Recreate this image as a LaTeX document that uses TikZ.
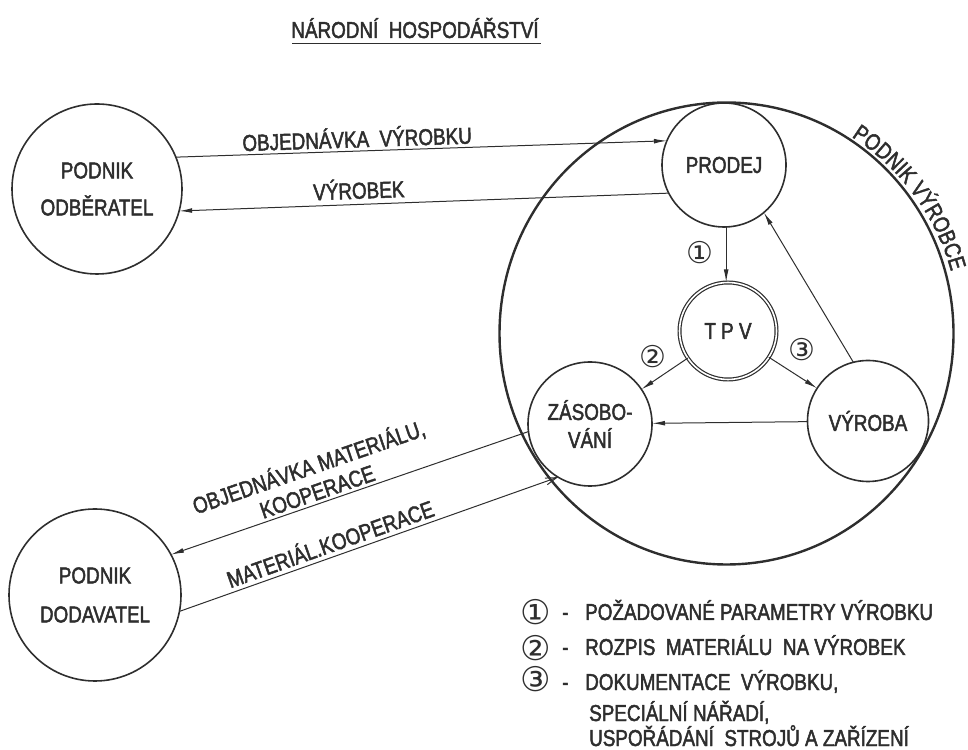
\documentclass[tikz,border=0pt]{standalone}
\usepackage{fontspec}
\setmainfont[FakeStretch=0.82, FakeBold=2]{Liberation Sans}
\newfontfamily\numfont{DejaVu Sans}
\usetikzlibrary{arrows.meta,decorations.text,shapes.geometric}
\definecolor{ink}{HTML}{2E2E2E}
\newcommand{\lbl}{\fontsize{23}{26}\selectfont}
\begin{document}
\begin{tikzpicture}[x=1pt,y=1pt,
  blob/.style={circle, draw=ink, line width=1.6pt, minimum size=#1, inner sep=0pt, outer sep=0pt, align=center, text=ink},
  conn/.style={draw=ink, line width=1pt, -{Latex[length=13pt,width=4.8pt]}},
  openconn/.style={draw=ink, line width=1pt, -{Straight Barb[length=11pt,width=7pt]}},
  clabel/.style={font=\lbl, text=ink, sloped, above},
  cnum/.style={font={\numfont\fontsize{30}{30}\selectfont}, text=ink, inner sep=0pt},
  lnum/.style={font={\numfont\fontsize{34}{34}\selectfont}, text=ink, inner sep=0pt},
  legtext/.style={font=\lbl, text=ink, anchor=west, inner sep=0pt, text height=16pt, text depth=0pt},
]
\useasboundingbox (0,0) rectangle (968,749);

% title
\node[font=\lbl, text=ink, inner sep=0pt, anchor=base] (title) at (415,711) {NÁRODNÍ\ \ HOSPODÁŘSTVÍ};
\draw[ink, line width=1.8pt] ([yshift=-5pt,xshift=1pt]title.south west) -- ([yshift=-5pt,xshift=2pt]title.south east);

% enterprise boundary
\node[ellipse, draw=ink, line width=2.4pt, minimum width=454pt, minimum height=462pt, inner sep=0pt, outer sep=0pt] (firm) at (726.5,415.5) {};
\path[decorate, decoration={text along path, raise=2pt, text format delimiters={|}{|}, text={|\lbl\color{ink}|PODNIK VÝROBCE}, text align=center}]
  (firm.center) ++(62:231) arc[start angle=62, end angle=11, radius=231];

% circles
\node[blob=170pt, font={\fontsize{23}{37}\selectfont}] (odb) at (97,560) {PODNIK\\ODBĚRATEL};
\node[blob=172pt, font={\fontsize{23}{39}\selectfont}] (dod) at (95,154) {PODNIK\\DODAVATEL};
\node[blob=124pt, font=\lbl] (prodej) at (724,584) {PRODEJ};
\node[blob=124pt, font={\fontsize{23}{28}\selectfont}] (zas) at (590,325) {ZÁSOBO-\\VÁNÍ};
\node[blob=121pt, font=\lbl] (vyr) at (868,328) {VÝROBA};
\node[circle, draw=ink, double=white, double distance=1.6pt, line width=1.2pt, minimum size=97pt, inner sep=0pt, outer sep=0pt, font=\lbl, text=ink] (tpv) at (728,418) {T P V};

% connectors
\draw[conn] (odb.22) -- node[clabel, pos=0.37, inner sep=3pt] {OBJEDNÁVKA\ \ VÝROBKU} (prodej.157.5);
\draw[conn] (prodej.207) -- node[clabel, pos=0.632, inner sep=5pt] {VÝROBEK} (odb.345);
\draw[conn] (prodej.272) -- (prodej.272 |- tpv.north);
\draw[conn] (tpv) -- (zas);
\draw[conn] (tpv) -- (vyr);
\draw[conn] (vyr.104) -- (prodej.310);
\draw[conn] (vyr) -- (zas);
\draw[conn] (zas.187) -- node[clabel, pos=0.58, inner sep=3pt, align=center, font={\fontsize{23}{26}\selectfont}] {OBJEDNÁVKA MATERIÁLU,\\KOOPERACE} (dod.28);
\draw[openconn] (dod.349) -- node[clabel, pos=0.41, inner sep=4pt] {MATERIÁL.KOOPERACE} (zas.239.5);

% circled numbers on the diagram
\node[cnum] (n1) at (700,496) {①};
\node[cnum] (n2) at (653,392) {②};
\node[cnum] (n3) at (802,399) {③};

% legend
\node[lnum] (l1) at (536,137) {①};
\node[lnum] (l2) at (536,101) {②};
\node[lnum] (l3) at (536,70) {③};
\node[legtext] (d1) at (562,137) {-};
\node[legtext] (d2) at (562,102) {-};
\node[legtext] (d3) at (562,67) {-};
\node[legtext] (t1) at (585,137) {POŽADOVANÉ PARAMETRY VÝROBKU};
\node[legtext] (t2) at (585,102) {ROZPIS\ \ MATERIÁLU\ \ NA VÝROBEK};
\node[legtext] (t3) at (585,67) {DOKUMENTACE\ \ VÝROBKU,};
\node[legtext] (t4) at (589,36) {SPECIÁLNÍ NÁŘADÍ,};
\node[legtext] (t5) at (589,11) {USPOŘÁDÁNÍ\ \ STROJŮ A ZAŘÍZENÍ};
\end{tikzpicture}
\end{document}
